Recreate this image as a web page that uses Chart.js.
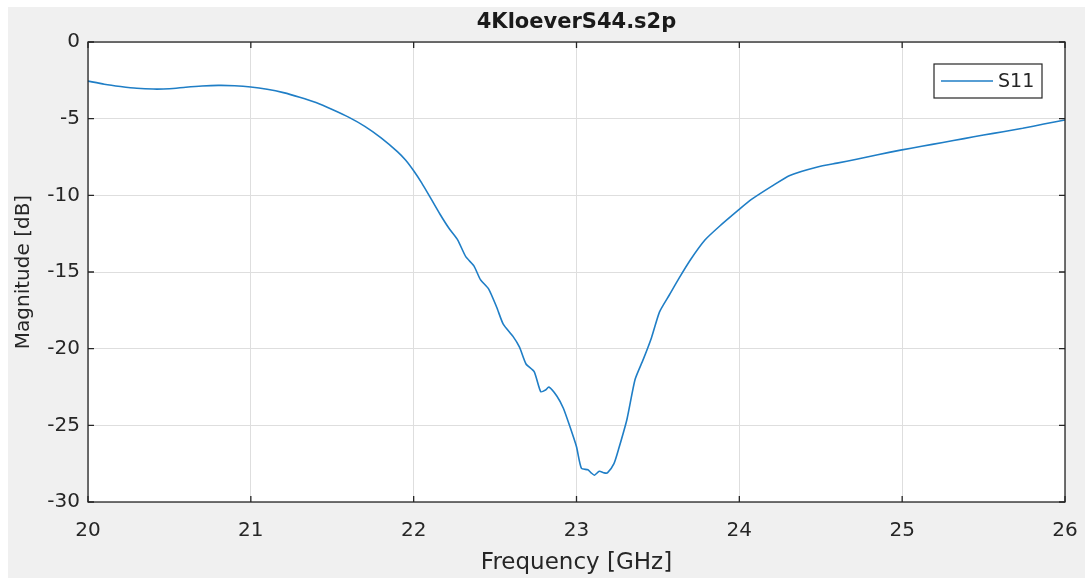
<!DOCTYPE html>
<html>
<head>
<meta charset="utf-8">
<script src="https://cdn.jsdelivr.net/npm/chart.js@4"></script>
<style>
  html, body { margin: 0; padding: 0; background: #fff; }
  #wrap { width: 1090px; height: 578px; }
</style>
</head>
<body>
<div id="wrap"><canvas id="chartS11" width="1090" height="578"></canvas></div>
<script>
// S11 (GHz, dB)
const freqGHz = [
  20.00, 20.10, 20.20, 20.30, 20.40, 20.50, 20.60, 20.70, 20.80, 20.90,
  21.00, 21.10, 21.20, 21.30, 21.40, 21.50, 21.60, 21.70, 21.80, 21.90,
  21.95, 22.00, 22.05, 22.10, 22.16, 22.22, 22.27, 22.32, 22.37, 22.41,
  22.46, 22.51, 22.55, 22.61, 22.65, 22.69, 22.74, 22.78, 22.81, 22.83,
  22.88, 22.92, 22.96, 23.00, 23.03, 23.07, 23.09, 23.11, 23.14, 23.17,
  23.19, 23.23, 23.26, 23.31, 23.36, 23.41, 23.46, 23.51, 23.57, 23.63,
  23.70, 23.79, 23.88, 23.99, 24.07, 24.20, 24.31, 24.48, 24.60, 24.72,
  24.85, 24.99, 25.12, 25.25, 25.38, 25.50, 25.62, 25.74, 25.87, 26.00
];
const magDb = [
  -2.55, -2.75, -2.90, -3.02, -3.07, -3.05, -2.95, -2.87, -2.83, -2.85,
  -2.93, -3.08, -3.30, -3.60, -3.95, -4.40, -4.90, -5.50, -6.25, -7.15,
  -7.70, -8.40, -9.20, -10.10, -11.20, -12.20, -12.90, -14.00, -14.60, -15.50,
  -16.10, -17.30, -18.40, -19.20, -19.90, -21.00, -21.50, -22.80, -22.70, -22.50,
  -23.10, -23.90, -25.10, -26.40, -27.80, -27.90, -28.10, -28.25, -28.00, -28.10,
  -28.10, -27.50, -26.50, -24.60, -22.00, -20.70, -19.30, -17.60, -16.50, -15.40,
  -14.20, -12.90, -12.00, -11.00, -10.30, -9.40, -8.70, -8.15, -7.90, -7.65,
  -7.35, -7.05, -6.80, -6.55, -6.30, -6.07, -5.85, -5.63, -5.35, -5.09
];
const seriesName = 'S11';
const plotTitle = '4KloeverS44.s2p';
const xTitle = 'Frequency [GHz]';
const yTitle = 'Magnitude [dB]';

const lineColor = '#1f7ec6';
const axisColor = '#262626';
const fontFam = '"DejaVu Sans", Verdana, sans-serif';

// gray figure background + white axes area
const bgPlugin = {
  id: 'bg',
  beforeDraw(chart) {
    const { ctx, chartArea: a } = chart;
    ctx.save();
    ctx.fillStyle = '#f0f0f0';
    ctx.fillRect(8, 7, 1077, 571);
    ctx.fillStyle = '#ffffff';
    ctx.fillRect(a.left, a.top, a.right - a.left, a.bottom - a.top);
    ctx.restore();
  }
};

// box around axes, inward ticks, title over the axes, boxed legend
const boxPlugin = {
  id: 'box',
  afterDraw(chart) {
    const { ctx, chartArea: a, scales } = chart;
    ctx.save();
    ctx.strokeStyle = axisColor;
    ctx.lineWidth = 1.3;
    ctx.strokeRect(a.left, a.top, a.right - a.left, a.bottom - a.top);
    const tl = 6;
    ctx.beginPath();
    scales.x.ticks.forEach(t => {
      const px = scales.x.getPixelForValue(t.value);
      ctx.moveTo(px, a.bottom); ctx.lineTo(px, a.bottom - tl);
      ctx.moveTo(px, a.top); ctx.lineTo(px, a.top + tl);
    });
    scales.y.ticks.forEach(t => {
      const py = scales.y.getPixelForValue(t.value);
      ctx.moveTo(a.left, py); ctx.lineTo(a.left + tl, py);
      ctx.moveTo(a.right, py); ctx.lineTo(a.right - tl, py);
    });
    ctx.stroke();

    // title
    ctx.fillStyle = '#1a1a1a';
    ctx.font = 'bold 21px ' + fontFam;
    ctx.textAlign = 'center';
    ctx.textBaseline = 'alphabetic';
    ctx.fillText(plotTitle, (a.left + a.right) / 2, 28);

    // legend
    const lx = a.right - 131, ly = a.top + 22, lw = 108, lh = 34;
    ctx.fillStyle = '#ffffff';
    ctx.fillRect(lx, ly, lw, lh);
    ctx.strokeStyle = axisColor;
    ctx.lineWidth = 1.2;
    ctx.strokeRect(lx, ly, lw, lh);
    ctx.strokeStyle = lineColor;
    ctx.lineWidth = 1.6;
    ctx.beginPath();
    ctx.moveTo(lx + 7, ly + lh / 2);
    ctx.lineTo(lx + 59, ly + lh / 2);
    ctx.stroke();
    ctx.fillStyle = '#262626';
    ctx.font = '19px ' + fontFam;
    ctx.textAlign = 'left';
    ctx.textBaseline = 'middle';
    ctx.fillText(chart.data.datasets[0].label, lx + 64, ly + lh / 2 + 1);
    ctx.restore();
  }
};

const points = freqGHz.map((f, i) => ({ x: f, y: magDb[i] }));

new Chart(document.getElementById('chartS11').getContext('2d'), {
  type: 'line',
  data: {
    datasets: [{
      label: seriesName,
      data: points,
      borderColor: lineColor,
      borderWidth: 1.6,
      pointRadius: 0,
      tension: 0.2,
      fill: false
    }]
  },
  options: {
    responsive: false,
    animation: false,
    layout: { padding: { left: 0, right: 25, top: 42, bottom: 0 } },
    plugins: {
      legend: { display: false },
      tooltip: { enabled: false },
      title: { display: false }
    },
    scales: {
      x: {
        type: 'linear',
        min: 20, max: 26,
        afterFit(s) {
          s.height = 76;
          s.paddingLeft = 0;
          s.paddingRight = 0;
        },
        ticks: {
          stepSize: 1,
          padding: 17,
          color: '#262626',
          font: { family: fontFam, size: 20 }
        },
        grid: { color: '#dedede', lineWidth: 1, drawTicks: false },
        border: { display: false },
        title: {
          display: true,
          text: xTitle,
          color: '#262626',
          font: { family: fontFam, size: 23 },
          padding: { top: 0, bottom: 1 }
        }
      },
      y: {
        type: 'linear',
        min: -30, max: 0,
        afterFit(s) {
          s.width = 88;
          s.paddingTop = 0;
          s.paddingBottom = 0;
        },
        ticks: {
          stepSize: 5,
          padding: 8,
          color: '#262626',
          font: { family: fontFam, size: 20 }
        },
        grid: { color: '#dedede', lineWidth: 1, drawTicks: false },
        border: { display: false },
        title: {
          display: true,
          text: yTitle,
          color: '#262626',
          font: { family: fontFam, size: 20 },
          padding: { top: 12, bottom: 0 }
        }
      }
    }
  },
  plugins: [bgPlugin, boxPlugin]
});
</script>
</body>
</html>
